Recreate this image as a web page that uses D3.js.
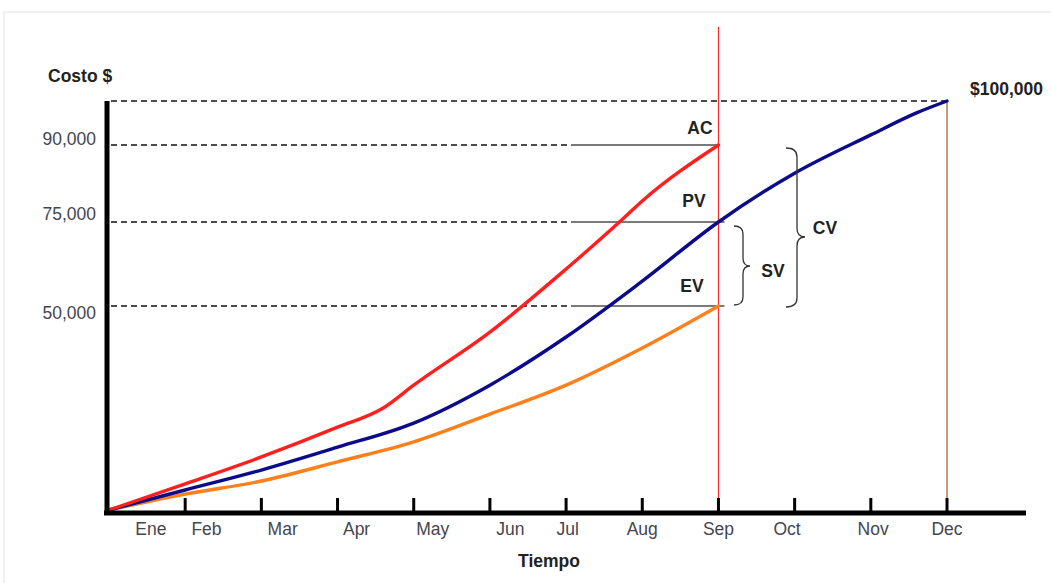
<!DOCTYPE html>
<html>
<head>
<meta charset="utf-8">
<script src="https://cdn.jsdelivr.net/npm/d3@7"></script>
<style>
  html, body { margin: 0; padding: 0; background: #fff; }
  svg { display: block; font-family: "Liberation Sans", Arial, sans-serif; }
</style>
</head>
<body>
<svg id="chart" width="1051" height="583"></svg>
<script>
// ---------- DATA ----------
const months = ["Ene", "Feb", "Mar", "Apr", "May", "Jun", "Jul", "Aug", "Sep", "Oct", "Nov", "Dec"];
const monthLabelAt = [0.55, 1.28, 2.28, 3.25, 4.25, 5.27, 6.02, 7.0, 8.0, 8.9, 10.03, 11.0];
const tickMonths = [1, 2, 3, 4, 5, 6, 7, 8, 9, 10, 11];
const pvMonths = [0, 1, 2, 3, 4, 5, 6, 7, 8, 9, 10, 10.6, 11];
const pvValues = [0, 4900, 9800, 15400, 21300, 30600, 42400, 57400, 75000, 84500, 92300, 97300, 100000];
const acMonths = [0, 1, 2, 3, 3.6, 4, 5, 6, 6.7, 7, 8];
const acValues = [0, 6400, 13000, 20300, 25000, 30600, 43600, 61000, 75000, 79100, 90000];
const evMonths = [0, 1, 2, 3, 4, 5, 6, 7, 8];
const evValues = [0, 3900, 7100, 11800, 16700, 23500, 30600, 39700, 50000];
const yTickValues = [90000, 75000, 50000];
const yTickLabels = ["90,000", "75,000", "50,000"];
const budget = 100000;
const statusMonth = 8;
const endMonth = 11;
const AC = 90000, PV = 75000, EV = 50000;

// ---------- STYLE / LAYOUT ----------
const yLabelDy = [-7, -9, 6];
const FS = 17.5;
const svg = d3.select("#chart");

const x = d3.scaleLinear().domain([0, 11]).range([109, 947]);
const y = d3.scaleLinear().domain([0, 50000, 75000, 90000, 100000]).range([510, 306, 222, 145, 101]);

// light frame
svg.append("path")
  .attr("d", "M4,583 L4,12 L1051,12")
  .attr("fill", "none").attr("stroke", "#ececec").attr("stroke-width", 1.5);

// dashed reference lines
const dashStart = x(0) + 2;
const dashEnd = 570;
svg.append("line")
  .attr("x1", dashStart).attr("x2", x(endMonth)).attr("y1", y(budget)).attr("y2", y(budget))
  .attr("stroke", "#111").attr("stroke-width", 1.4).attr("stroke-dasharray", "6,4");
yTickValues.forEach(v => {
  svg.append("line")
    .attr("x1", dashStart).attr("x2", dashEnd).attr("y1", y(v)).attr("y2", y(v))
    .attr("stroke", "#111").attr("stroke-width", 1.4).attr("stroke-dasharray", "6,4");
});

// gray solid indicator lines
[[AC, 0], [PV, 6], [EV, 6]].forEach(([v, ext]) => {
  svg.append("line")
    .attr("x1", dashEnd + 1).attr("x2", x(statusMonth) + ext).attr("y1", y(v)).attr("y2", y(v))
    .attr("stroke", "#7a7a7a").attr("stroke-width", 2);
});

// vertical lines
svg.append("line")
  .attr("x1", x(statusMonth)).attr("x2", x(statusMonth)).attr("y1", 27).attr("y2", 513)
  .attr("stroke", "#ff2a2a").attr("stroke-width", 1.2);
svg.append("line")
  .attr("x1", x(endMonth)).attr("x2", x(endMonth)).attr("y1", y(budget)).attr("y2", 513)
  .attr("stroke", "#c0704a").attr("stroke-width", 1.5);

// curves
const line = d3.line().x(d => x(d[0])).y(d => y(d[1])).curve(d3.curveMonotoneX);
const series = [
  { m: evMonths, v: evValues, color: "#ff7f1a" },
  { m: pvMonths, v: pvValues, color: "#0c0c8a" },
  { m: acMonths, v: acValues, color: "#ff1f1f" }
];
series.forEach(s => {
  svg.append("path")
    .datum(s.m.map((m, i) => [m, s.v[i]]))
    .attr("d", line)
    .attr("fill", "none").attr("stroke", s.color).attr("stroke-width", 3.4)
    .attr("stroke-linecap", "round").attr("stroke-linejoin", "round");
});

// axes
const axisY = 513;
svg.append("line")
  .attr("x1", x(0) - 2).attr("x2", x(0) - 2).attr("y1", y(budget)).attr("y2", axisY + 2)
  .attr("stroke", "#000").attr("stroke-width", 5);
svg.append("line")
  .attr("x1", x(0) - 5).attr("x2", 1026).attr("y1", axisY).attr("y2", axisY)
  .attr("stroke", "#000").attr("stroke-width", 5);
tickMonths.forEach(m => {
  svg.append("line")
    .attr("x1", x(m)).attr("x2", x(m)).attr("y1", axisY - 15).attr("y2", axisY)
    .attr("stroke", "#000").attr("stroke-width", 3);
});

// x labels
months.forEach((name, i) => {
  svg.append("text")
    .attr("x", x(monthLabelAt[i])).attr("y", 534.5)
    .attr("text-anchor", "middle").attr("font-size", FS).attr("fill", "#454550")
    .text(name);
});
svg.append("text")
  .attr("x", 549).attr("y", 566.5).attr("text-anchor", "middle")
  .attr("font-size", FS).attr("font-weight", "bold").attr("fill", "#222")
  .text("Tiempo");

// y labels
yTickValues.forEach((v, i) => {
  svg.append("text")
    .attr("x", 96).attr("y", y(v) + yLabelDy[i] + 6.5)
    .attr("text-anchor", "end").attr("font-size", FS).attr("fill", "#454550")
    .text(yTickLabels[i]);
});
svg.append("text")
  .attr("x", 48).attr("y", 81.5)
  .attr("font-size", FS).attr("font-weight", "bold").attr("fill", "#222")
  .text("Costo $");
svg.append("text")
  .attr("x", 970).attr("y", 94.5)
  .attr("font-size", FS).attr("font-weight", "bold").attr("fill", "#222")
  .text("$100,000");

// indicator labels
const lab = (t, cx, cy) => svg.append("text")
  .attr("x", cx).attr("y", cy).attr("text-anchor", "middle")
  .attr("font-size", FS).attr("font-weight", "bold").attr("fill", "#222").text(t);
lab("AC", 700, 133.5);
lab("PV", 694, 206.5);
lab("EV", 692, 291.5);

// braces
function brace(x0, x1, x2, y1, y2, ym, r) {
  return `M${x0},${y1} Q${x1},${y1} ${x1},${y1 + r} L${x1},${ym - r} Q${x1},${ym} ${x2},${ym}` +
         ` Q${x1},${ym} ${x1},${ym + r} L${x1},${y2 - r} Q${x1},${y2} ${x0},${y2}`;
}
svg.append("path")
  .attr("d", brace(734, 743, 750, y(PV) + 4, y(EV) - 1, 266, 8))
  .attr("fill", "none").attr("stroke", "#333").attr("stroke-width", 1.3);
svg.append("path")
  .attr("d", brace(786, 797, 805, y(AC) + 3, y(EV) + 1, 237, 9))
  .attr("fill", "none").attr("stroke", "#333").attr("stroke-width", 1.3);
lab("SV", 773, 276.5);
lab("CV", 825, 233.5);
</script>
</body>
</html>
